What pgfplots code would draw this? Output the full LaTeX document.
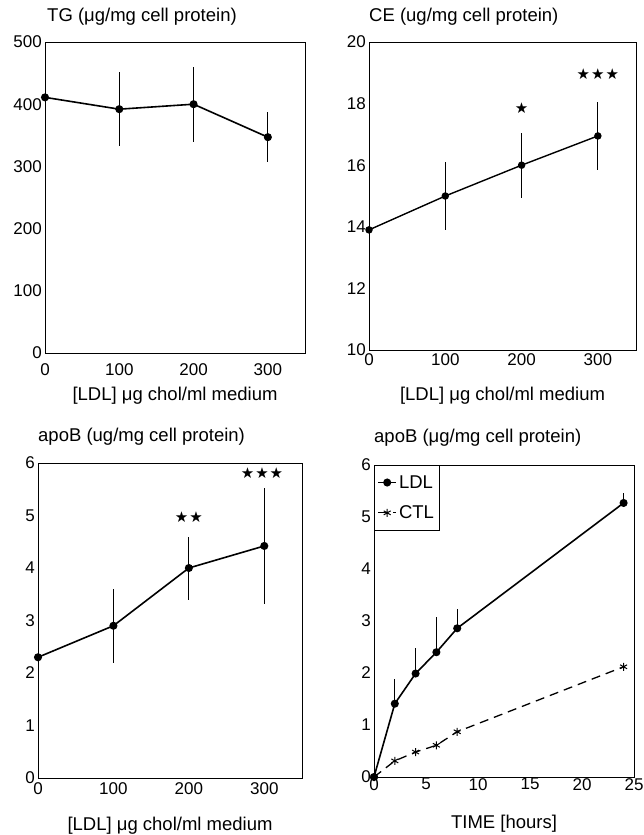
\documentclass[border=0pt]{standalone}
\usepackage{fontspec}
\setmainfont{Liberation Sans}
\newfontfamily\symfont{DejaVu Sans}
\usepackage{pgfplots}
\pgfplotsset{compat=1.18}
\newcommand{\lblfont}{\fontsize{17}{19}\selectfont}
\newcommand{\ttlfont}{\fontsize{18.5}{21}\selectfont}
\newcommand{\starfont}{\symfont\fontsize{15}{17}\selectfont}
\pgfplotsset{
  panel/.style={
    scale only axis, anchor=north west,
    axis line style={line width=0.8pt},
    major tick length=0pt,
    /pgf/number format/assume math mode=true,
    tick label style={font=\lblfont},
    xticklabel style={inner sep=0pt},
    yticklabel style={inner sep=0pt, xshift=-3pt},
    title style={at={(axis description cs:0,1)}, anchor=base west, inner sep=0pt, font=\ttlfont},
    xlabel style={at={(axis description cs:0.5,0)}, anchor=base, inner sep=0pt, font=\ttlfont},
    error bars/error bar style={line width=0.9pt, black},
    error bars/error mark=none,
  }
}
\begin{document}
\begin{tikzpicture}[x=1pt,y=1pt]
\path (0,0) rectangle (643,-835);
% Panel 1: TG
\begin{axis}[panel, at={(45pt,-42pt)}, width=260pt, height=311pt,
  xmin=0, xmax=350, ymin=0, ymax=500,
  xtick={0,100,200,300}, ytick={0,100,200,300,400,500},
  xticklabel style={yshift=-10pt},
  title={TG (μg/mg cell protein)}, title style={yshift=15pt, xshift=2pt},
  xlabel={[LDL] μg chol/ml medium}, xlabel style={yshift=-47pt}]
\addplot[black, line width=1.6pt, mark=*, mark size=3.2pt, mark options={solid, fill=black},
  error bars/.cd, y dir=both, y explicit]
  coordinates {(0,411) +- (0,0) (100,392) +- (0,60) (200,400) +- (0,60) (300,347) +- (0,40)};
\end{axis}
% Panel 2: CE
\begin{axis}[panel, at={(369pt,-42pt)}, width=267pt, height=308pt,
  xmin=0, xmax=350, ymin=10, ymax=20,
  xtick={0,100,200,300}, ytick={10,12,14,16,18,20},
  xticklabel style={yshift=-3pt},
  title={CE (ug/mg cell protein)}, title style={yshift=15pt},
  xlabel={[LDL] μg chol/ml medium}, xlabel style={yshift=-50pt}]
\addplot[black, line width=1.4pt, mark=*, mark size=3pt, mark options={solid, fill=black},
  error bars/.cd, y dir=both, y explicit]
  coordinates {(0,13.9) +- (0,0) (100,15.0) +- (0,1.1) (200,16.0) +- (0,1.05) (300,16.95) +- (0,1.1)};
\node[font=\starfont] at (axis cs:200,17.85) {★};
\node[font=\starfont] at (axis cs:300,18.95) {★\hspace{1pt}★\hspace{1pt}★};
\end{axis}
% Panel 3: apoB vs LDL
\begin{axis}[panel, at={(38pt,-463pt)}, width=264pt, height=315pt,
  xmin=0, xmax=350, ymin=0, ymax=6,
  xtick={0,100,200,300}, ytick={0,1,2,3,4,5,6},
  xticklabel style={yshift=-4pt},
  title={apoB (ug/mg cell protein)}, title style={yshift=16pt},
  xlabel={[LDL] μg chol/ml medium}, xlabel style={yshift=-52pt}]
\addplot[black, line width=1.6pt, mark=*, mark size=3.2pt, mark options={solid, fill=black},
  error bars/.cd, y dir=both, y explicit]
  coordinates {(0,2.3) +- (0,0) (100,2.9) +- (0,0.7) (200,4.0) +- (0,0.6) (300,4.42) +- (0,1.1)};
\node[font=\starfont] at (axis cs:200,4.96) {★\hspace{1pt}★};
\node[font=\starfont] at (axis cs:297,5.8) {★\hspace{1pt}★\hspace{1pt}★};
\end{axis}
% Panel 4: apoB vs time
\begin{axis}[panel, at={(374pt,-465pt)}, width=260pt, height=312pt,
  xmin=0, xmax=25, ymin=0, ymax=6,
  xtick={0,5,10,15,20,25}, ytick={0,1,2,3,4,5,6},
  xticklabel style={yshift=-1pt},
  title={apoB (μg/mg cell protein)}, title style={yshift=17pt},
  xlabel={TIME [hours]}, xlabel style={yshift=-51pt},
  legend style={at={(axis description cs:0,1)}, anchor=north west, draw=black, line width=0.8pt,
    font=\ttlfont, inner xsep=3pt, inner ysep=8pt, row sep=12pt, cells={anchor=west}},
  legend image code/.code={\draw[mark repeat=2,mark phase=2,#1] plot coordinates {(0pt,0pt) (9pt,0pt) (18pt,0pt)};}]
\addplot[black, solid, line width=1.6pt, mark=*, mark size=3.2pt, mark options={solid, fill=black},
  error bars/.cd, y dir=plus, y explicit]
  coordinates {(0,0) +- (0,0) (2,1.41) +- (0,0.48) (4,1.99) +- (0,0.5) (6,2.4) +- (0,0.67) (8,2.86) +- (0,0.38) (24,5.27) +- (0,0.2)};
\addlegendentry{LDL}
\addplot[black, dash pattern=on 9pt off 6pt, line width=1.3pt, mark=asterisk, mark size=4pt, mark options={solid, line width=1pt}]
  coordinates {(0,0) (2,0.31) (4,0.48) (6,0.61) (8,0.87) (24,2.12)};
\addlegendentry{CTL}
\end{axis}
\end{tikzpicture}
\end{document}
